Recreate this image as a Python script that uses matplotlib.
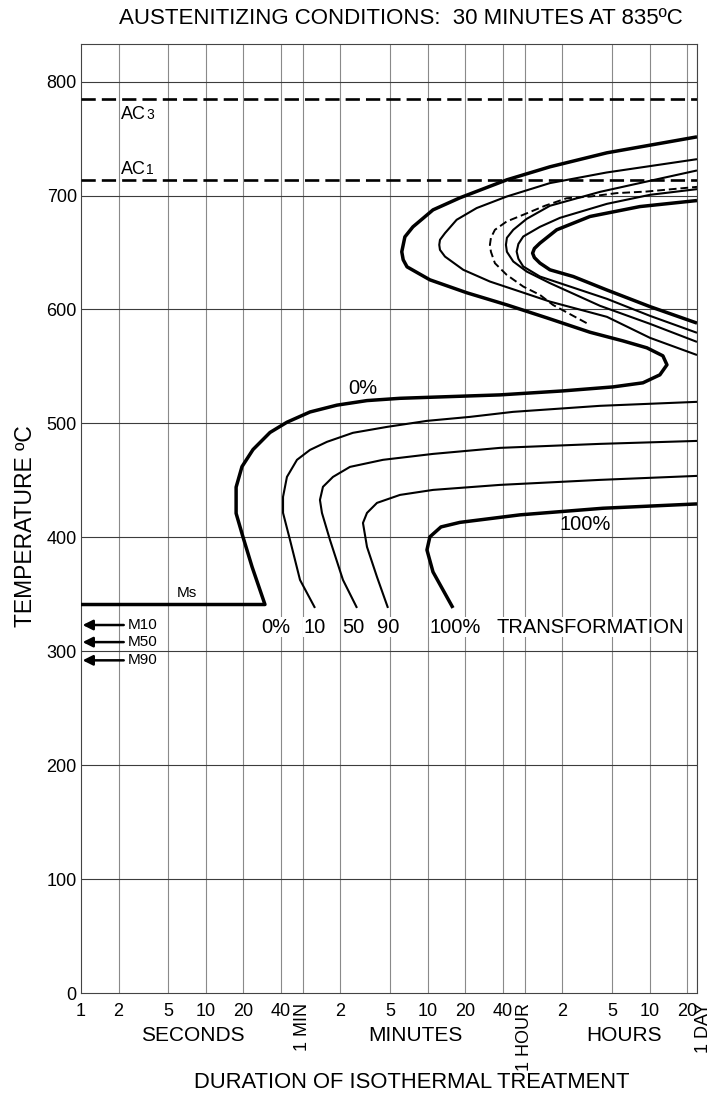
import matplotlib.pyplot as plt
from matplotlib.ticker import NullLocator
from matplotlib.transforms import offset_copy

plt.rcParams['font.family'] = ['Liberation Sans', 'DejaVu Sans']

# critical temperatures (degC)
ac3 = 785
ac1 = 714
m_temps = [323, 308, 292]
m_names = ['M10', 'M50', 'M90']

# 0% line: Ms line, bainite bay, pearlite nose (time in s, temperature in degC)
start_t = [1, 29.8, 23.5, 19.9, 17.5, 17.5, 19.5, 23.9, 32.7, 44.7, 68.4, 112.5,
           195.8, 360, 662, 2277, 7280, 18320, 31860, 43550, 49630, 46030, 34290,
           22030, 11990, 5418, 2589, 1239, 625, 410, 382, 372, 394, 457, 662, 1088,
           2589, 5727, 16400, 86400]
start_T = [341, 341, 374, 400, 421, 444, 462, 477, 492, 501, 510, 516,
           520, 522, 523, 525, 528.5, 532, 535.6, 542.6, 551.4, 559.3, 566.3,
           572.4, 580, 592.6, 604, 614.6, 626, 637.4, 643.6, 650.6, 663.7, 672.5, 687.4, 698,
           713.8, 725.2, 737.5, 751.5]

# pearlite curves (upper right)
p10_t = [86400, 36240, 16400, 5727, 3296, 1892, 1157, 826, 753, 743, 753, 826, 1024,
         1482, 2577, 5727, 16270, 86400]
p10_T = [560, 575.1, 593.5, 606.9, 615.7, 624.5, 634.8, 646.4, 652.3, 656.7, 661.1, 667, 678.7,
         689, 699.1, 710.9, 720.2, 731.9]

pdash_t = [11270, 6053, 4762, 3499, 2577, 2075, 1928, 1892, 1928, 2075, 2577, 3499, 5224,
           7798, 11990, 19600, 34120, 86400]
pdash_T = [588, 604, 612.8, 620.1, 630.4, 640.6, 650.6, 656.7, 662.9, 669.9, 677.2, 683.1, 691,
           697.6, 699.1, 702.1, 703.5, 707.6]

p50_t = [86400, 36240, 14420, 5727, 3726, 2911, 2589, 2543, 2589, 2911, 3726, 5727,
         14420, 36240, 86400]
p50_T = [571.5, 587.4, 603.2, 623.1, 633.3, 642.1, 650.6, 656.7, 662.9, 669.9, 679.5, 691,
         703.2, 712.9, 722]

p90_t = [86400, 36240, 16400, 4762, 3499, 3200, 3099, 3200, 3499, 4762, 6887, 16400, 36240, 86400]
p90_T = [579.5, 594.4, 609.3, 628.9, 637.7, 644.5, 650.8, 657.5, 664, 672.5, 680.4, 692.7, 700.6, 705.6]

p100_t = [86400, 36240, 16270, 8810, 5727, 4762, 4300, 4160, 4300, 4762, 6485, 11990, 30140, 86400]
p100_T = [588, 602.5, 617.2, 628.9, 634.8, 640.7, 645.5, 649.4, 653.5, 658.2, 669.9, 681.6, 690.3, 695.6]

# bainite curves (lower part)
b10_t = [75, 56.9, 47.3, 41.6, 41.6, 44.7, 53.8, 68.4, 93.6, 151, 283, 592, 1309, 2897,
         14420, 86400]
b10_T = [338, 362.6, 397.7, 421.4, 435.5, 453, 468, 476.7, 483.8, 491.7, 496.9, 502.2, 505.7,
         510.1, 515.4, 518.9]

b50_t = [162.8, 125.7, 98.9, 85.3, 82.2, 86.9, 104.5, 143, 263, 662, 2277, 14420, 86400]
b50_T = [338, 362.6, 397.7, 421.4, 432.8, 444.3, 453, 461.8, 468, 473.2, 478.5, 482, 484.6]

b90_t = [288.4, 235.5, 195.8, 181.8, 195.8, 235.5, 359.7, 662, 2277, 14420, 86400]
b90_T = [338, 365.2, 391.6, 412.6, 421.4, 430.2, 437.2, 441.6, 446, 450.4, 453.9]

b100_t = [957, 662, 592, 625, 767, 1088, 3296, 15230, 86400]
b100_T = [338, 369.6, 388.9, 400.4, 409.1, 413.1, 419.7, 425.5, 429.3]

# axis ticks
grid_t = [2, 5, 10, 20, 40, 60, 120, 300, 600, 1200, 2400, 3600, 7200, 18000,
          36000, 72000, 86400]
xtick_pos = [1] + grid_t[:-1]
xtick_lab = ['1', '2', '5', '10', '20', '40', '1 MIN', '2', '5', '10', '20', '40',
             '1 HOUR', '2', '5', '10', '20']
ytick_pos = [0, 100, 200, 300, 400, 500, 600, 700, 800]

fig = plt.figure(figsize=(7.13, 11.07), dpi=100)
ax = fig.add_axes([81 / 713, 114 / 1107, 616 / 713, 949 / 1107])
ax.set_xscale('log')
ax.set_xlim(1, 86400)
ax.set_ylim(0, 833)

for t in grid_t:
    ax.axvline(t, color='#8a8a8a', lw=0.8, zorder=1)
for T in ytick_pos[1:]:
    ax.axhline(T, color='#3c3c3c', lw=0.8, zorder=1)
for sp in ax.spines.values():
    sp.set_color('#444444')
    sp.set_linewidth(0.8)

ax.set_xticks(xtick_pos, xtick_lab)
ax.xaxis.set_minor_locator(NullLocator())
ax.tick_params(axis='x', length=0, pad=7, labelsize=13)
for lab in ax.get_xticklabels():
    if lab.get_text() in ('1 MIN', '1 HOUR'):
        lab.set_rotation(90)
ax.set_yticks(ytick_pos)
ax.tick_params(axis='y', length=0, pad=3, labelsize=13)

# "1 DAY" sits just right of the last grid line
xt = ax.get_xaxis_transform()
day_tr = offset_copy(xt, fig=fig, x=5, y=-7, units='points')
ax.text(86400, 0, '1 DAY', transform=day_tr, fontsize=13, rotation=90,
        ha='center', va='top')

# critical lines
dash = (0, (5.4, 2.3))
ax.axhline(ac3, color='k', lw=1.9, ls=dash, zorder=3)
ax.axhline(ac1, color='k', lw=1.9, ls=dash, zorder=3)
tr = offset_copy(ax.transData, fig=fig, x=18.3, y=0, units='points')
ax.text(2.09, 767.5, 'AC', fontsize=13, va='baseline')
ax.text(2.09, 767.5, '3', fontsize=10, va='baseline', transform=tr)
ax.text(2.09, 719, 'AC', fontsize=13, va='baseline')
ax.text(2.09, 719, '1', fontsize=10, va='baseline', transform=tr)

# transformation curves
thick, thin = 2.5, 1.5
kw = dict(color='k', solid_joinstyle='round', solid_capstyle='butt', zorder=4)
ax.plot(start_t, start_T, lw=thick, **kw)
ax.plot(p10_t, p10_T, lw=thin, **kw)
ax.plot(p50_t, p50_T, lw=thin, **kw)
ax.plot(p90_t, p90_T, lw=thin, **kw)
ax.plot(p100_t, p100_T, lw=thick, **kw)
ax.plot(pdash_t, pdash_T, lw=1.4, color='k', ls=(0, (4, 2)), zorder=4)
ax.plot(b10_t, b10_T, lw=thin, **kw)
ax.plot(b50_t, b50_T, lw=thin, **kw)
ax.plot(b90_t, b90_T, lw=thin, **kw)
ax.plot(b100_t, b100_T, lw=thick, **kw)

# martensite arrows
for T, name in zip(m_temps, m_names):
    ax.annotate('', xy=(1.03, T), xytext=(2.2, T),
                arrowprops=dict(arrowstyle='-|>', lw=1.8, color='k',
                                mutation_scale=15, shrinkA=0, shrinkB=0), zorder=5)
    ax.text(2.38, T, name, fontsize=11, va='center', ha='left')
ax.text(7.07, 351, 'Ms', fontsize=11, ha='center', va='center')

# curve labels
ax.text(181.8, 531, '0%', fontsize=14.5, ha='center', va='center')
ax.text(10920, 411, '100%', fontsize=14.5, ha='center', va='center')
for t, s in zip([36.5, 74, 152, 290, 993, 11990],
                ['0%', '10', '50', '90', '100%', 'TRANSFORMATION']):
    ax.text(t, 321, s, fontsize=14.5, ha='center', va='center',
            bbox=dict(facecolor='white', edgecolor='none', pad=0.5), zorder=6)

# unit labels below the axis
ax.text(7.9, -0.0443, 'SECONDS', transform=xt, fontsize=15, ha='center', va='center')
ax.text(483, -0.0443, 'MINUTES', transform=xt, fontsize=15, ha='center', va='center')
ax.text(22440, -0.0443, 'HOURS', transform=xt, fontsize=15, ha='center', va='center')

fig.text(400.5 / 713, 1 - 18 / 1107, 'AUSTENITIZING CONDITIONS:  30 MINUTES AT 835ºC',
         fontsize=16, ha='center', va='center')
fig.text(412 / 713, 1 - 1083 / 1107, 'DURATION OF ISOTHERMAL TREATMENT',
         fontsize=15.8, ha='center', va='center')
fig.text(26 / 713, 1 - 526 / 1107, 'TEMPERATURE ºC', fontsize=16.5, rotation=90,
         ha='center', va='center')

fig.savefig('out.png', dpi=100)
